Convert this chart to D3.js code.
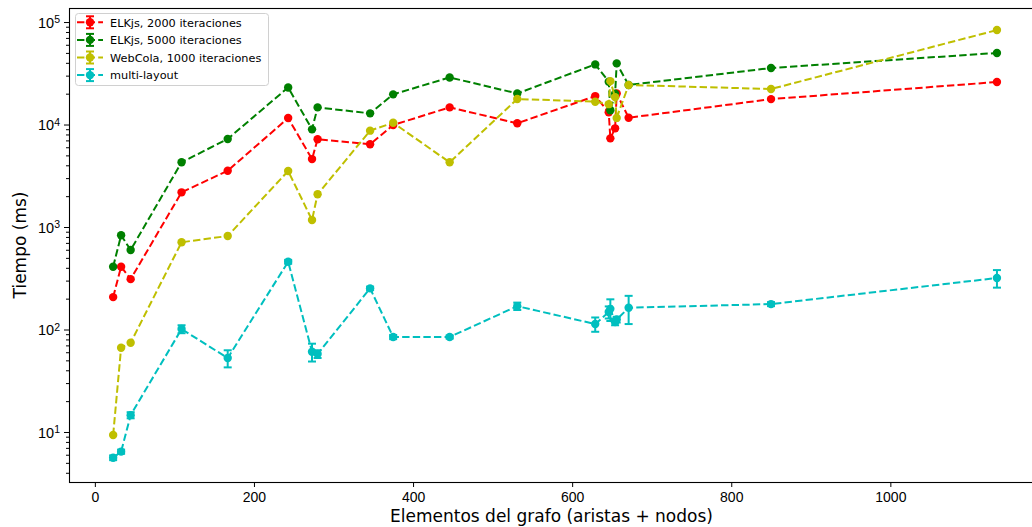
<!DOCTYPE html>
<html>
<head>
<meta charset="utf-8">
<script src="https://cdn.jsdelivr.net/npm/d3@7"></script>
<style>
    body { margin: 0; background: #fff; }
    svg { display: block; font-family: "DejaVu Sans", sans-serif; }
</style>
</head>
<body>
<div id="chart"></div>
<script>
// graph sizes (edges + nodes)
const graphSizes = [23, 33, 45, 109, 167, 243, 273, 280, 346, 375, 446, 531, 629, 646, 648, 654, 656, 671, 850, 1134];

// timings in ms
const elk2000 = [207, 410, 310, 2180, 3540, 11560, 4600, 7180, 6420, 9890, 14700, 10280, 18950, 13150, 7330, 9180, 20100, 11650, 17700, 26000];
const elk5000 = [410, 830, 597, 4280, 7230, 23000, 8970, 14700, 12850, 19700, 28800, 20100, 38600, 26200, 13800, 20000, 39500, 24300, 35600, 49900];
const webcola = [9.35, 66.4, 74.3, 710, 817, 3520, 1170, 2085, 8710, 10400, 4280, 17750, 16700, 15800, 26500, 18500, 11600, 24300, 22200, 83500];
const multiLayout = [5.61, 6.43, 14.6, 101, 52.7, 458, 60.7, 57.7, 252, 84.5, 84.5, 169, 113, 148, 159, 118, 125, 163, 177, 318];
const multiLayoutErr = [0.3, 0.3, 1, 9, 10, 20, 12, 5, 10, 4, 3, 14, 18, 20, 38, 8, 8, 50, 8, 62];

const seriesNames = ["ELKjs, 2000 iteraciones", "ELKjs, 5000 iteraciones", "WebCola, 1000 iteraciones", "multi-layout"];
const seriesColors = ["#ff0000", "#008000", "#bfbf00", "#00bfbf"];
const xTicks = [0, 200, 400, 600, 800, 1000];
const yDecades = [10, 100, 1000, 10000, 100000];

class TimingVis {
    constructor(parentElement) {
        this.parentElement = parentElement;
        this.initVis();
    }

    initVis() {
        let vis = this;

        vis.W = 1032;
        vis.H = 527;
        vis.left = 69;
        vis.top = 8;
        vis.bottom = 482;

        vis.svg = d3.select("#" + vis.parentElement)
            .append("svg")
            .attr("width", vis.W)
            .attr("height", vis.H);

        vis.x = d3.scaleLinear()
            .domain([-32.5, 1189.5])
            .range([vis.left, vis.left + 1222 * 0.7955]);

        vis.y = d3.scaleLog()
            .domain([Math.pow(10, 0.512), Math.pow(10, 5.137)])
            .range([vis.bottom, vis.top]);

        vis.series = [elk2000, elk5000, webcola, multiLayout].map((vals, i) => ({
            name: seriesNames[i],
            color: seriesColors[i],
            points: vals.map((v, j) => ({
                x: graphSizes[j],
                y: v,
                err: i === 3 ? multiLayoutErr[j] : 0
            }))
        }));

        vis.drawAxes();
        vis.drawSeries();
        vis.drawLegend();
    }

    drawAxes() {
        let vis = this;

        // x axis
        let xAxis = vis.svg.append("g")
            .attr("transform", `translate(0,${vis.bottom})`)
            .call(d3.axisBottom(vis.x).tickValues(xTicks).tickFormat(d3.format("d")).tickSize(5).tickPadding(5).tickSizeOuter(0));
        xAxis.select(".domain").remove();
        xAxis.selectAll("text").style("font-size", "14px").attr("fill", "#000");

        // y axis: minor ticks
        let minor = [];
        for (let d = 1; d <= 100000; d *= 10) {
            for (let k = 2; k <= 9; k++) minor.push(d * k);
        }
        minor = minor.filter(v => v >= vis.y.domain()[0] && v <= vis.y.domain()[1]);

        vis.svg.append("g")
            .attr("transform", `translate(${vis.left},0)`)
            .call(d3.axisLeft(vis.y).tickValues(minor).tickSize(3).tickFormat(""))
            .select(".domain").remove();

        let yAxis = vis.svg.append("g")
            .attr("transform", `translate(${vis.left},0)`)
            .call(d3.axisLeft(vis.y).tickValues(yDecades).tickSize(5).tickPadding(4).tickFormat(""));
        yAxis.select(".domain").remove();

        yAxis.selectAll(".tick text")
            .attr("fill", "#000")
            .style("font-size", "14.5px")
            .attr("dy", "0.36em")
            .each(function(d) {
                let t = d3.select(this);
                t.append("tspan").text("10");
                t.append("tspan")
                    .attr("dy", "-0.45em")
                    .style("font-size", "10.5px")
                    .text(Math.round(Math.log10(d)));
            });

        // spines
        vis.svg.append("rect")
            .attr("x", vis.left + 0.5)
            .attr("y", vis.top + 0.5)
            .attr("width", vis.W)
            .attr("height", vis.bottom - vis.top)
            .attr("fill", "none")
            .attr("stroke", "#000")
            .attr("stroke-width", 1.1);

        vis.svg.append("text")
            .attr("x", (vis.left + vis.W) / 2 + 1)
            .attr("y", 522)
            .attr("text-anchor", "middle")
            .style("font-size", "17px")
            .text("Elementos del grafo (aristas + nodos)");

        vis.svg.append("text")
            .attr("transform", `translate(26,${(vis.top + vis.bottom) / 2}) rotate(-90)`)
            .attr("text-anchor", "middle")
            .style("font-size", "17px")
            .text("Tiempo (ms)");
    }

    drawSeries() {
        let vis = this;

        let plot = vis.svg.append("g");

        let line = d3.line()
            .x(d => vis.x(d.x))
            .y(d => vis.y(d.y));

        vis.series.forEach(s => {
            let g = plot.append("g");

            g.append("path")
                .datum(s.points)
                .attr("d", line)
                .attr("fill", "none")
                .attr("stroke", s.color)
                .attr("stroke-width", 2)
                .attr("stroke-dasharray", "7.4,3.2");

            let bars = g.selectAll(".err")
                .data(s.points.filter(d => d.err > 0))
                .enter()
                .append("g")
                .attr("stroke", s.color)
                .attr("stroke-width", 2);

            bars.append("line")
                .attr("x1", d => vis.x(d.x))
                .attr("x2", d => vis.x(d.x))
                .attr("y1", d => vis.y(d.y + d.err))
                .attr("y2", d => vis.y(Math.max(d.y - d.err, 0.01)));
            bars.append("line")
                .attr("x1", d => vis.x(d.x) - 4)
                .attr("x2", d => vis.x(d.x) + 4)
                .attr("y1", d => vis.y(d.y + d.err))
                .attr("y2", d => vis.y(d.y + d.err));
            bars.append("line")
                .attr("x1", d => vis.x(d.x) - 4)
                .attr("x2", d => vis.x(d.x) + 4)
                .attr("y1", d => vis.y(d.y - d.err))
                .attr("y2", d => vis.y(d.y - d.err));

            g.selectAll("circle")
                .data(s.points)
                .enter()
                .append("circle")
                .attr("cx", d => vis.x(d.x))
                .attr("cy", d => vis.y(d.y))
                .attr("r", 4.2)
                .attr("fill", s.color);
        });
    }

    drawLegend() {
        let vis = this;

        let lg = vis.svg.append("g");

        lg.append("rect")
            .attr("x", 75.5)
            .attr("y", 13.5)
            .attr("width", 193)
            .attr("height", 72)
            .attr("rx", 3)
            .attr("fill", "#fff")
            .attr("fill-opacity", 0.8)
            .attr("stroke", "#d0d0d0");

        vis.series.forEach((s, i) => {
            let cy = 22.3 + i * 17.6;
            let item = lg.append("g");

            item.append("line")
                .attr("x1", 77).attr("x2", 103)
                .attr("y1", cy).attr("y2", cy)
                .attr("stroke", s.color)
                .attr("stroke-width", 2)
                .attr("stroke-dasharray", "7.4,3.2");
            item.append("line")
                .attr("x1", 90).attr("x2", 90)
                .attr("y1", cy - 6).attr("y2", cy + 6)
                .attr("stroke", s.color).attr("stroke-width", 2);
            item.append("line")
                .attr("x1", 86).attr("x2", 94)
                .attr("y1", cy - 6).attr("y2", cy - 6)
                .attr("stroke", s.color).attr("stroke-width", 2);
            item.append("line")
                .attr("x1", 86).attr("x2", 94)
                .attr("y1", cy + 6).attr("y2", cy + 6)
                .attr("stroke", s.color).attr("stroke-width", 2);
            item.append("circle")
                .attr("cx", 90).attr("cy", cy)
                .attr("r", 4.2)
                .attr("fill", s.color);

            item.append("text")
                .attr("x", 110)
                .attr("y", cy + 4.3)
                .style("font-size", "11.3px")
                .text(s.name);
        });
    }
}

new TimingVis("chart");
</script>
</body>
</html>
